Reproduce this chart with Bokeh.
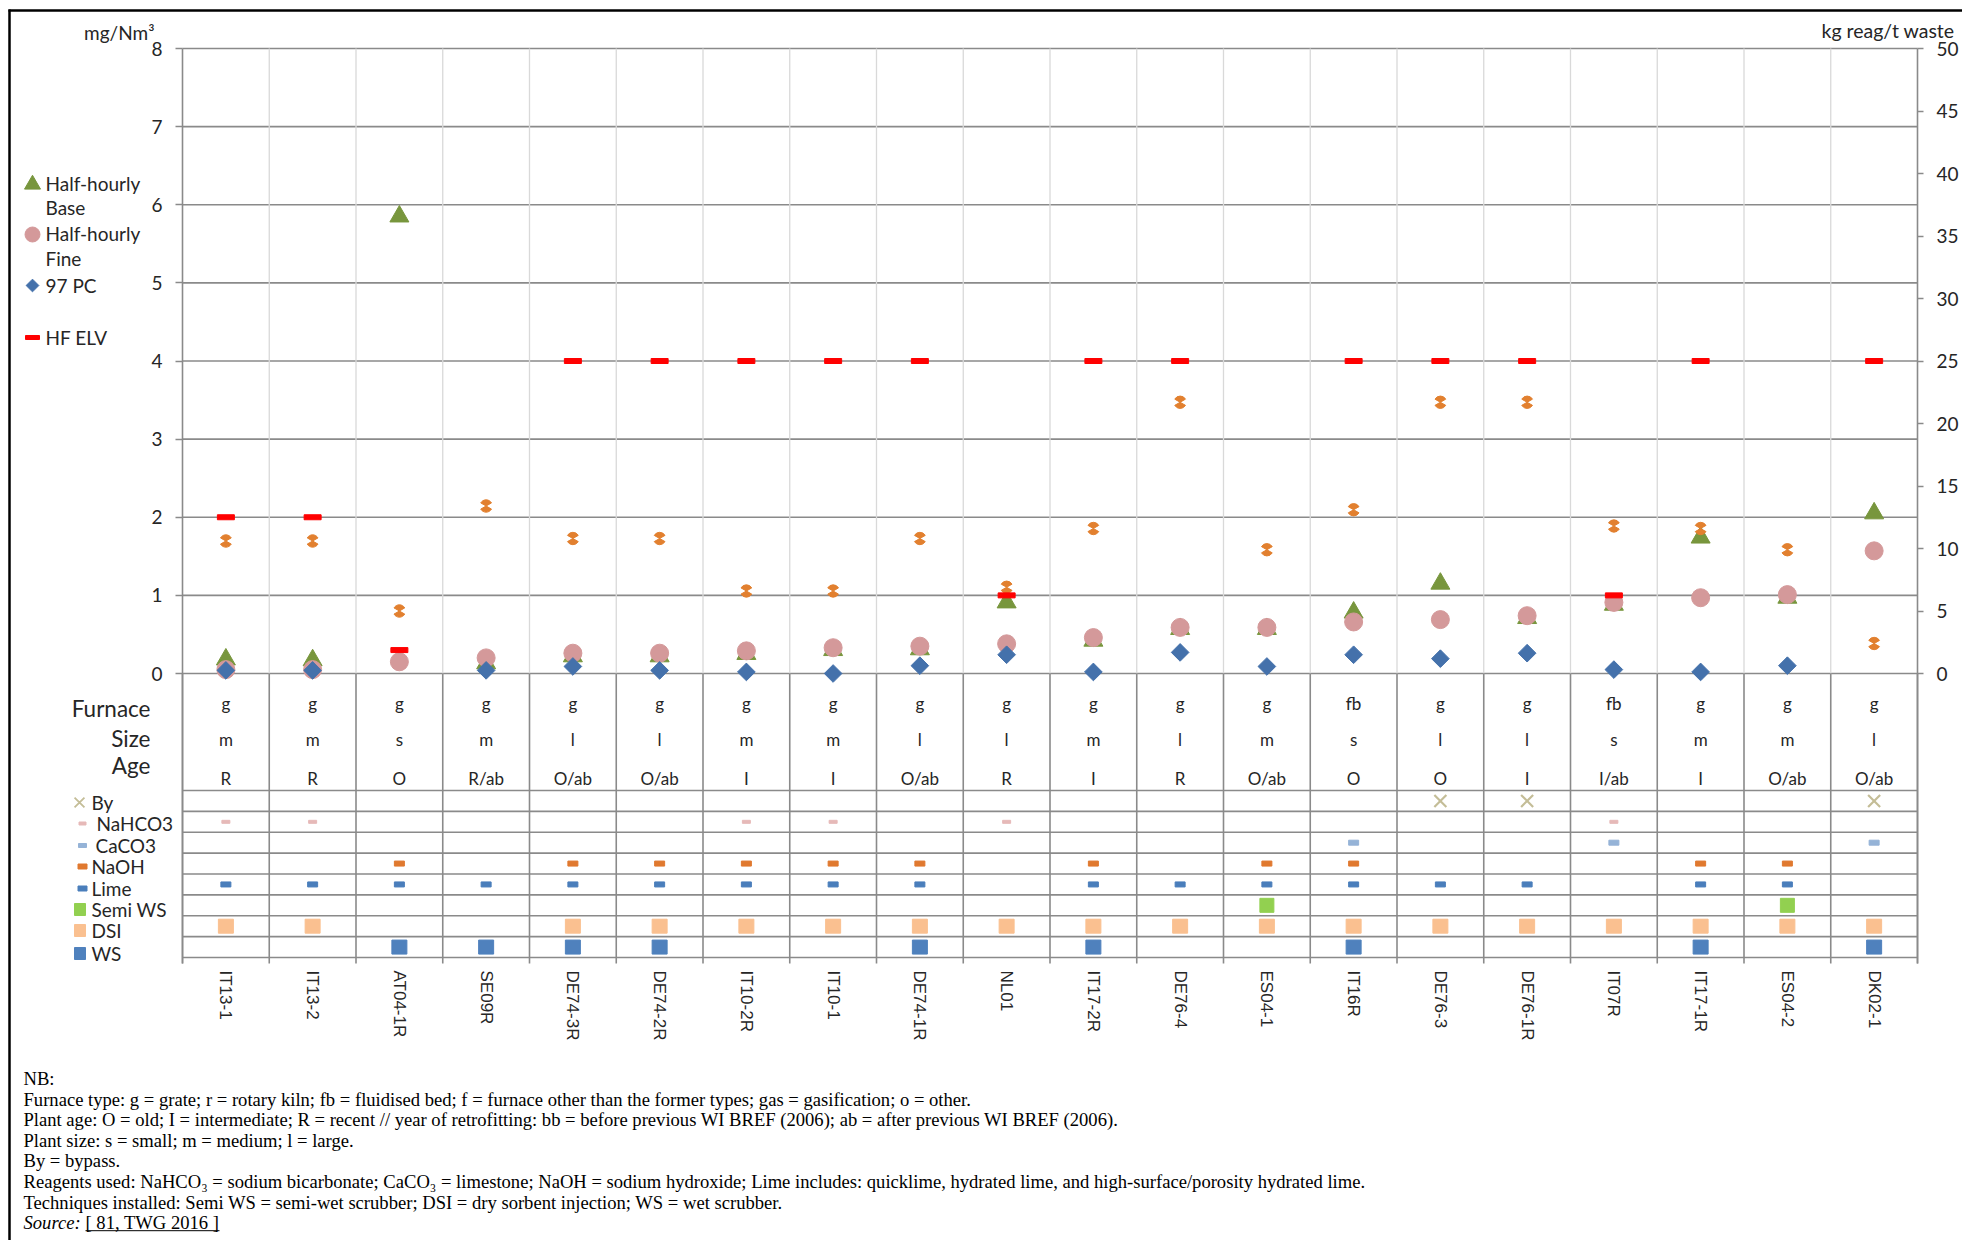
import math
from bokeh.plotting import figure
from bokeh.models import (Range1d, LinearAxis, FixedTicker, Label, CustomJSTickFormatter)
from bokeh.core.properties import value
from bokeh.embed import file_html
from bokeh.resources import INLINE

# ---------------- data ----------------
plants = ["IT13-1", "IT13-2", "AT04-1R", "SE09R", "DE74-3R", "DE74-2R", "IT10-2R", "IT10-1",
          "DE74-1R", "NL01", "IT17-2R", "DE76-4", "ES04-1", "IT16R", "DE76-3", "DE76-1R",
          "IT07R", "IT17-1R", "ES04-2", "DK02-1"]
furnace = ["g", "g", "g", "g", "g", "g", "g", "g", "g", "g", "g", "g", "g", "fb", "g", "g",
           "fb", "g", "g", "g"]
size = ["m", "m", "s", "m", "l", "l", "m", "m", "l", "l", "m", "l", "m", "s", "l", "l",
        "s", "m", "m", "l"]
age = ["R", "R", "O", "R/ab", "O/ab", "O/ab", "I", "I", "O/ab", "R", "I", "R", "O/ab", "O",
       "O", "I", "I/ab", "I", "O/ab", "O/ab"]

half_hourly_base = [0.18, 0.17, 5.85, 0.13, 0.22, 0.22, 0.25, 0.30, 0.31, 0.91, 0.42, 0.57,
                    0.57, 0.78, 1.15, 0.71, 0.88, 1.74, 0.97, 2.05]
half_hourly_fine = [0.05, 0.05, 0.15, 0.20, 0.26, 0.26, 0.29, 0.33, 0.35, 0.38, 0.46, 0.59,
                    0.59, 0.66, 0.69, 0.74, 0.91, 0.97, 1.01, 1.57]
pc97 = [0.04, 0.04, None, 0.04, 0.09, 0.04, 0.02, 0.00, 0.10, 0.24, 0.02, 0.27, 0.09, 0.24,
        0.19, 0.26, 0.05, 0.02, 0.10, None]
hf_elv = [2, 2, 0.3, None, 4, 4, 4, 4, 4, 1, 4, 4, None, 4, 4, 4, 1, 4, None, 4]
reagent_kg_t = [10.6, 10.6, 5.0, 13.4, 10.8, 10.8, 6.6, 6.6, 10.8, 6.9, 11.6, 21.7, 9.9, 13.1,
                21.7, 21.7, 11.8, 11.6, 9.9, 2.4]

bypass = [0, 0, 0, 0, 0, 0, 0, 0, 0, 0, 0, 0, 0, 0, 1, 1, 0, 0, 0, 1]
nahco3 = [1, 1, 0, 0, 0, 0, 1, 1, 0, 1, 0, 0, 0, 0, 0, 0, 1, 0, 0, 0]
caco3 = [0, 0, 0, 0, 0, 0, 0, 0, 0, 0, 0, 0, 0, 1, 0, 0, 1, 0, 0, 1]
naoh = [0, 0, 1, 0, 1, 1, 1, 1, 1, 0, 1, 0, 1, 1, 0, 0, 0, 1, 1, 0]
lime = [1, 1, 1, 1, 1, 1, 1, 1, 1, 0, 1, 1, 1, 1, 1, 1, 0, 1, 1, 0]
semi_ws = [0, 0, 0, 0, 0, 0, 0, 0, 0, 0, 0, 0, 1, 0, 0, 0, 0, 0, 1, 0]
dsi = [1, 1, 0, 0, 1, 1, 1, 1, 1, 1, 1, 1, 1, 1, 1, 1, 1, 1, 1, 1]
ws = [0, 0, 1, 1, 1, 1, 0, 0, 1, 0, 1, 0, 0, 1, 0, 0, 0, 1, 0, 1]

left_ticks = list(range(0, 9))
right_ticks = list(range(0, 51, 5))

nan = float("nan")
def clean(v):
    return [nan if a is None else a for a in v]

# ---------------- layout (canvas pixel coordinates) ----------------
W, H = 1962, 1240
FL, FR, FT, FB = 182, 1917, 48, 963      # plot/table box
ZERO = 673                                # pixel row of value 0
YMAX = 8
KGMAX = 50
n = len(plants)
cw = (FR - FL) / n                        # category width (px)
ppu = (ZERO - FT) / YMAX                  # px per mg/Nm3
ratio = KGMAX / YMAX
ybot = -(FB - ZERO) / ppu
ROW_TOP, ROW_BOT = 790, 957
NROWS = 8
row_h = (ROW_BOT - ROW_TOP) / NROWS
row_c = [ROW_TOP + (i + 0.5) * row_h for i in range(NROWS)]
xs = [i + 0.5 for i in range(n)]          # category centres

TXT = "#262626"
GRID = "#8a8a8a"
LIGHT = "#d9d9d9"

p = figure(width=W, height=H, title=None,
           x_range=Range1d(-FL / cw, (W - FL) / cw),
           y_range=Range1d((ZERO - H) / ppu, ZERO / ppu),
           output_backend="svg", toolbar_location=None,
           min_border=0, min_border_left=0, min_border_right=0,
           min_border_top=0, min_border_bottom=0)
p.extra_x_ranges = {"px": Range1d(0, W)}
p.extra_y_ranges = {"px": Range1d(H, 0),
                    "kg": Range1d((ZERO - H) / ppu * ratio, ZERO / ppu * ratio)}
p.outline_line_color = None
p.background_fill_color = "white"
p.border_fill_color = "white"
p.xgrid.visible = False
p.ygrid.visible = False

# left axis
p.yaxis.fixed_location = 0
p.yaxis.bounds = (ybot, YMAX)
p.yaxis.ticker = FixedTicker(ticks=left_ticks)
p.yaxis.axis_line_color = GRID
p.yaxis.axis_line_width = 1.6
p.yaxis.major_tick_line_color = GRID
p.yaxis.major_tick_line_width = 1.3
p.yaxis.major_tick_out = 7
p.yaxis.major_tick_in = 0
p.yaxis.minor_tick_line_color = None
p.yaxis.major_label_text_font = "Lato"
p.yaxis.major_label_text_font_size = "19px"
p.yaxis.major_label_text_color = TXT
p.yaxis.major_label_standoff = 13

# right axis
ax_r = LinearAxis(y_range_name="kg", ticker=FixedTicker(ticks=right_ticks),
                  fixed_location=n, bounds=(ybot * ratio, KGMAX))
ax_r.axis_line_color = GRID
ax_r.axis_line_width = 1.6
ax_r.major_tick_line_color = GRID
ax_r.major_tick_line_width = 1.3
ax_r.major_tick_out = 6
ax_r.major_tick_in = 0
ax_r.minor_tick_line_color = None
ax_r.major_label_text_font = "Lato"
ax_r.major_label_text_font_size = "19px"
ax_r.major_label_text_color = TXT
ax_r.major_label_standoff = 13
p.add_layout(ax_r, "right")

# bottom axis (plant codes)
p.xaxis.fixed_location = ybot
p.xaxis.ticker = FixedTicker(ticks=xs)
p.xaxis.formatter = CustomJSTickFormatter(args=dict(names=plants),
                                          code="return names[Math.round(tick - 0.5)] || ''")
p.xaxis.major_label_orientation = "vertical"
p.xaxis.axis_line_color = None
p.xaxis.major_tick_line_color = None
p.xaxis.major_tick_out = 0
p.xaxis.major_tick_in = 0
p.xaxis.minor_tick_line_color = None
p.xaxis.major_label_standoff = 7
p.xaxis.major_label_text_font = "Liberation Sans"
p.xaxis.major_label_text_font_size = "17px"
p.xaxis.major_label_text_color = TXT

# horizontal grid lines (0..8)
p.segment(x0=[0] * len(left_ticks), x1=[n] * len(left_ticks), y0=left_ticks, y1=left_ticks,
          line_color=GRID, line_width=1.6)
# vertical separators
inner = list(range(1, n))
allb = list(range(0, n + 1))
p.segment(x0=inner, x1=inner, y0=[0] * len(inner), y1=[YMAX] * len(inner),
          line_color=LIGHT, line_width=1.3)
p.segment(x0=allb, x1=allb, y0=[ybot] * len(allb), y1=[0] * len(allb),
          line_color=GRID, line_width=1.6)
# horizontal table lines
hl = [ROW_TOP + i * row_h for i in range(NROWS + 1)]
p.segment(x0=[FL] * len(hl), x1=[FR] * len(hl), y0=hl, y1=hl,
          x_range_name="px", y_range_name="px", line_color=GRID, line_width=1.6)

# ---------------- data marks ----------------
GREEN = "#78963d"
PINK = "#d4999a"
BLUE = "#4471ab"
RED = "#ff0000"
ORANGE = "#e2802f"

p.scatter(x=xs, y=half_hourly_base, marker="triangle", size=19, color=GREEN)
p.scatter(x=xs, y=half_hourly_fine, marker="circle", size=18, color=PINK)
p.scatter(x=xs, y=clean(pc97), marker="square", angle=math.pi / 4, size=12.5, color=BLUE)
p.wedge(x=xs, y=reagent_kg_t, radius=6.2, radius_units="screen",
        start_angle=math.radians(30), end_angle=math.radians(150), color=ORANGE,
        y_range_name="kg")
p.wedge(x=xs, y=reagent_kg_t, radius=6.2, radius_units="screen",
        start_angle=math.radians(210), end_angle=math.radians(330), color=ORANGE,
        y_range_name="kg")
p.rect(x=xs, y=clean(hf_elv), width=17, height=5, width_units="screen",
       height_units="screen", color=RED)

# ---------------- table ----------------
for txt, yy in ((furnace, 703), (size, 739), (age, 778)):
    p.text(x=xs, y=[yy] * n, text=txt, y_range_name="px", text_align="center",
           text_baseline="middle", text_font=value("Lato"), text_font_size="17px",
           text_color=TXT)

def sel(flags):
    return [x for x, f in zip(xs, flags) if f]

BY_C, NAHCO3_C, CACO3_C = "#c4bd97", "#e6b9b8", "#95b3d7"
NAOH_C, LIME_C, SEMI_C, DSI_C, WS_C = "#e0792f", "#4a7ebb", "#92d050", "#fac090", "#4f81bd"
rows = [
    (bypass, "x", None, None, BY_C),
    (nahco3, "rect", 8, 3, NAHCO3_C),
    (caco3, "rect", 10, 5, CACO3_C),
    (naoh, "rect", 10, 5, NAOH_C),
    (lime, "rect", 10, 5, LIME_C),
    (semi_ws, "rect", 14, 14, SEMI_C),
    (dsi, "rect", 15, 14, DSI_C),
    (ws, "rect", 15, 14, WS_C),
]
for i, (flags, kind, w, h, col) in enumerate(rows):
    xx = sel(flags)
    yy = [row_c[i]] * len(xx)
    if kind == "x":
        p.scatter(x=xx, y=yy, marker="x", size=17, line_width=2.2, line_color=col,
                  y_range_name="px")
    else:
        p.rect(x=xx, y=yy, width=w, height=h, width_units="screen", height_units="screen",
               color=col, y_range_name="px")

# ---------------- labels / legends ----------------
def lab(x, y, text, size="19px", font="Lato", align="left", color=TXT, style="normal"):
    p.add_layout(Label(x=x, y=y, text=text, x_range_name="px", y_range_name="px",
                       text_align=align, text_baseline="middle", text_font=font,
                       text_font_size=size, text_color=color, text_font_style=style))

lab(154, 32, "mg/Nm³", align="right")
lab(1954, 30, "kg reag/t waste", size="19.5px", align="right")

def icon(kind, x, y, col, **kw):
    if kind == "rect":
        p.rect(x=[x], y=[y], width=kw["w"], height=kw["h"], width_units="screen",
               height_units="screen", color=col, x_range_name="px", y_range_name="px")
    elif kind == "x":
        p.scatter(x=[x], y=[y], marker="x", size=kw["s"], line_width=1.8, line_color=col,
                  x_range_name="px", y_range_name="px")
    else:
        p.scatter(x=[x], y=[y], marker=kind, size=kw["s"], angle=kw.get("a", 0), color=col,
                  x_range_name="px", y_range_name="px")

# upper legend
icon("triangle", 32, 184, GREEN, s=16)
lab(45, 183, "Half-hourly")
lab(45, 207, "Base")
icon("circle", 32, 234, PINK, s=15)
lab(45, 233, "Half-hourly")
lab(45, 258, "Fine")
icon("square", 32, 285, BLUE, s=9, a=math.pi / 4)
lab(45, 285, "97 PC")
icon("rect", 32, 337, RED, w=14, h=4)
lab(45, 337, "HF ELV")

# table row titles
lab(150, 708, "Furnace", size="22.5px", align="right")
lab(150, 738, "Size", size="22.5px", align="right")
lab(150, 765, "Age", size="22.5px", align="right")

# lower legend
icon("x", 79, 802, BY_C, s=14)
lab(91, 802, "By")
icon("rect", 82, 823, NAHCO3_C, w=7, h=3)
lab(96, 823, "NaHCO3")
icon("rect", 82, 845, CACO3_C, w=8, h=4)
lab(95, 845, "CaCO3")
icon("rect", 82, 866, NAOH_C, w=9, h=5)
lab(91, 866, "NaOH")
icon("rect", 82, 888, LIME_C, w=9, h=5)
lab(91, 888, "Lime")
icon("rect", 79.5, 909, SEMI_C, w=11, h=12)
lab(91, 909, "Semi WS")
icon("rect", 79.5, 930, DSI_C, w=11, h=12)
lab(91, 930, "DSI")
icon("rect", 79.5, 953, WS_C, w=11, h=12)
lab(91, 953, "WS")

# footnotes
notes = [
    "NB:",
    "Furnace type: g = grate; r = rotary kiln; fb = fluidised bed; f = furnace other than the former types; gas = gasification; o = other.",
    "Plant age: O = old; I = intermediate; R = recent // year of retrofitting: bb = before previous WI BREF (2006); ab = after previous WI BREF (2006).",
    "Plant size: s = small; m = medium; l = large.",
    "By = bypass.",
    "Reagents used: NaHCO₃ = sodium bicarbonate; CaCO₃ = limestone; NaOH = sodium hydroxide; Lime includes: quicklime, hydrated lime, and high-surface/porosity hydrated lime.",
    "Techniques installed: Semi WS = semi-wet scrubber; DSI = dry sorbent injection; WS = wet scrubber.",
]
NB_Y, NB_DY = 1078, 20.6
FN = "18.6px"
for i, t in enumerate(notes):
    lab(23, NB_Y + i * NB_DY, t, size=FN, font="Liberation Serif", color="black")
yS = NB_Y + len(notes) * NB_DY
lab(23, yS, "Source:", size=FN, font="Liberation Serif", color="black", style="italic")
lab(85, yS, "[ 81, TWG 2016 ]", size=FN, font="Liberation Serif", color="black")
p.segment(x0=[85], x1=[219], y0=[yS + 8], y1=[yS + 8], x_range_name="px", y_range_name="px",
          line_color="black", line_width=1)

# outer frame of the figure page
p.segment(x0=[8, 9], x1=[W, 9], y0=[10, 9], y1=[10, H], x_range_name="px",
          y_range_name="px", line_color="black", line_width=2.5)

open("out.html", "w").write(file_html(p, INLINE))
